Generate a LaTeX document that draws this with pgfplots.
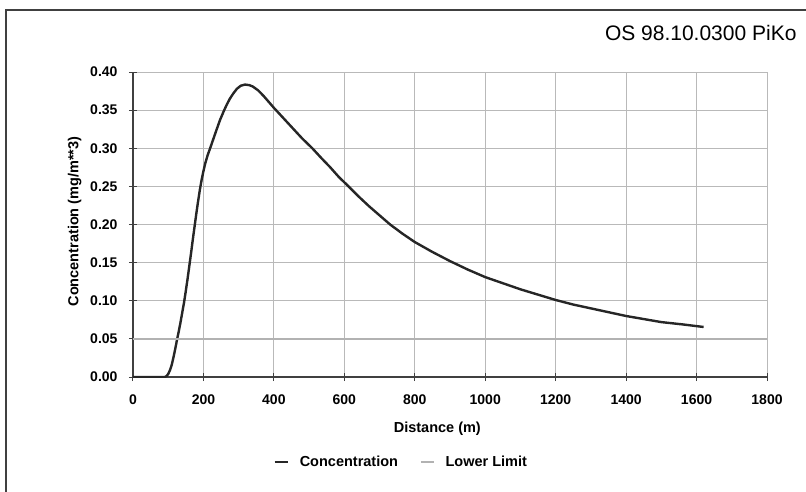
\documentclass[border=0pt]{standalone}
\usepackage{pgfplots}
\pgfplotsset{compat=1.18}
\usepackage{fontspec}
\setmainfont{Liberation Sans}

\pgfplotstableread{
d c
0 0
90 0
95 0.001
100 0.004
105 0.009
110 0.016
115 0.026
120 0.037
125 0.049
130 0.060
135 0.072
140 0.085
145 0.098
150 0.113
155 0.129
160 0.146
165 0.163
170 0.181
175 0.198
180 0.215
185 0.231
190 0.246
195 0.259
200 0.270
205 0.280
212 0.291
219 0.30
228 0.312
237 0.324
247 0.337
258 0.349
266 0.357
275 0.365
285 0.372
295 0.378
306 0.382
318 0.3835
330 0.3828
340 0.381
355 0.376
370 0.369
385 0.361
400 0.353
420 0.343
440 0.333
460 0.323
480 0.313
509 0.30
535 0.287
560 0.275
585 0.262
612 0.25
640 0.237
670 0.224
700 0.212
730 0.20
765 0.188
800 0.177
850 0.164
900 0.152
950 0.141
1000 0.131
1050 0.123
1100 0.115
1150 0.108
1200 0.101
1250 0.095
1300 0.090
1350 0.085
1400 0.080
1450 0.076
1500 0.072
1560 0.069
1620 0.0656
}\conc

\begin{document}
\begin{tikzpicture}
\useasboundingbox (-133pt,-114pt) rectangle (673pt,377pt);
% frame of the scanned page
\draw[line width=2pt, black!75] (-127pt,-130pt) -- (-127pt,367pt) -- (700pt,367pt);
\begin{axis}[
  scale only axis, width=634pt, height=305pt,
  xmin=0, xmax=1800, ymin=0, ymax=0.4,
  xtick={0,200,400,600,800,1000,1200,1400,1600,1800},
  ytick={0,0.05,0.10,0.15,0.20,0.25,0.30,0.35,0.40},
  axis lines*=left,
  axis line style={black!75, line width=1.3pt},
  tick align=center, major tick length=8pt,
  tick style={black!75, line width=1pt},
  grid=major, grid style={gray!55, line width=0.8pt},
  ticklabel style={font=\fontsize{14}{16}\selectfont\bfseries},
  yticklabel style={xshift=-8pt, /pgf/number format/.cd, fixed, fixed zerofill, precision=2},
  xticklabel style={yshift=-10pt, /pgf/number format/.cd, 1000 sep={}},
  /pgf/number format/assume math mode=true,
  xlabel={Distance (m)},
  ylabel={Concentration (mg/m**3)},
  label style={font=\fontsize{14.5}{16}\selectfont\bfseries},
  xlabel style={at={(axis description cs:0.48,-0.17)}, anchor=center},
  ylabel style={at={(axis description cs:-0.092,0.51)}, anchor=center},
  legend style={draw=none, fill=none, at={(axis description cs:0.423,-0.279)},
    anchor=center, legend columns=2, font=\fontsize{14.5}{16}\selectfont\bfseries,
    /tikz/every odd column/.append style={column sep=9pt},
    /tikz/every even column/.append style={column sep=20pt}},
  legend image code/.code={\draw[#1] (0pt,0pt) -- (13pt,0pt);},
]
\addplot[black!85, line width=2.4pt, line join=round] table[x=d, y=c] {\conc};
\addplot[gray!60, line width=1.6pt] coordinates {(0,0.05) (1800,0.05)};
\legend{Concentration, Lower Limit}
\end{axis}
\node[anchor=east, font=\fontsize{21}{24}\selectfont] at (667pt,344pt) {OS 98.10.0300 PiKo};
\end{tikzpicture}
\end{document}
